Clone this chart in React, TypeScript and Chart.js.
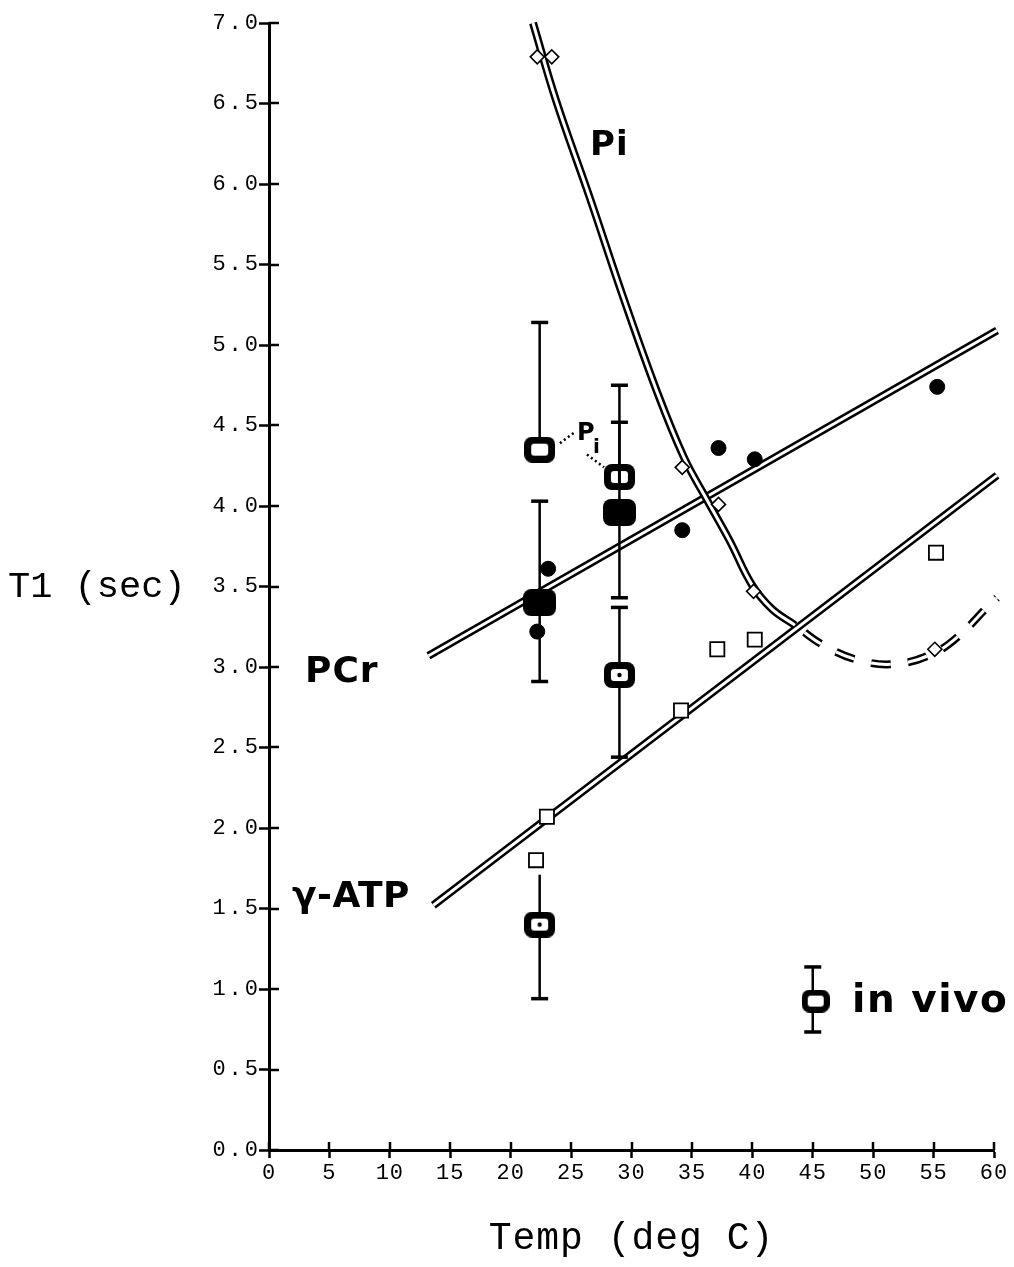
import React, { useEffect, useRef } from "react";
import { Chart, registerables } from "chart.js";

Chart.register(...registerables);

// ---------- data ----------
const tempTicks = [0, 5, 10, 15, 20, 25, 30, 35, 40, 45, 50, 55, 60];
const t1Ticks = [0, 0.5, 1, 1.5, 2, 2.5, 3, 3.5, 4, 4.5, 5, 5.5, 6, 6.5, 7];

// extract (in vitro) measurements
const piTemp = [22.2, 23.4, 34.2, 37.2, 40.1, 55.1];
const piT1 = [6.79, 6.79, 4.24, 4.01, 3.47, 3.11];
const pcrTemp = [22.2, 23.1, 34.2, 37.2, 40.2, 55.3];
const pcrT1 = [3.22, 3.61, 3.85, 4.36, 4.29, 4.74];
const atpTemp = [22.1, 23.0, 34.1, 37.1, 40.2, 55.2];
const atpT1 = [1.8, 2.07, 2.73, 3.11, 3.17, 3.71];

// fitted curves
const pcrFitTemp = [13.2, 60.25];
const pcrFitT1 = [3.07, 5.09];
const atpFitTemp = [13.6, 60.25];
const atpFitT1 = [1.52, 4.19];
const piFitTemp = [21.85, 23.75, 26.57, 29.3, 32.11, 34.35, 36.08, 38.15, 39.97, 41.63, 43.53, 45.77, 48.91, 52.06, 55.12, 57.19, 59.42, 60.25];
const piFitT1 = [7.0, 6.52, 5.91, 5.3, 4.71, 4.3, 4.06, 3.78, 3.51, 3.36, 3.26, 3.14, 3.04, 3.02, 3.09, 3.2, 3.37, 3.43];
const piFitDashedFrom = 43.5;

// in vivo measurements with error bars
const vivoPiTemp = [22.4, 29.0];
const vivoPiT1 = [4.35, 4.18];
const vivoPiHigh = [5.14, 4.75];
const vivoPiLow = [4.35, 4.18];
const vivoPcrTemp = [22.4, 29.0];
const vivoPcrT1 = [3.4, 3.96];
const vivoPcrHigh = [4.03, 4.52];
const vivoPcrLow = [2.91, 3.43];
const vivoAtpTemp = [22.4, 29.0];
const vivoAtpT1 = [1.4, 2.95];
const vivoAtpHigh = [1.71, 3.37];
const vivoAtpLow = [0.94, 2.44];
const vivoAtpHighCapped = [false, true];

const legendTemp = 45.0;
const legendT1 = 0.925;
const legendHigh = 1.137;
const legendLow = 0.733;

const xy = (xs: number[], ys: number[]) => xs.map((x, i) => ({ x, y: ys[i] }));

function roundRect(g: CanvasRenderingContext2D, x: number, y: number, w: number, h: number, r: number) {
  g.beginPath();
  g.moveTo(x + r, y);
  g.arcTo(x + w, y, x + w, y + h, r);
  g.arcTo(x + w, y + h, x, y + h, r);
  g.arcTo(x, y + h, x, y, r);
  g.arcTo(x, y, x + w, y, r);
  g.closePath();
}

function makeMarker(w: number, h: number, border: number, filled: boolean, inner: string) {
  const c = document.createElement("canvas");
  c.width = w;
  c.height = h;
  const g = c.getContext("2d")!;
  g.fillStyle = "#000";
  roundRect(g, 0, 0, w, h, 8);
  g.fill();
  if (!filled) {
    g.fillStyle = "#fff";
    roundRect(g, border, border, w - 2 * border, h - 2 * border, 3);
    g.fill();
    g.fillStyle = "#000";
    if (inner === "dot") {
      g.beginPath();
      g.arc(w / 2, h / 2, 2.2, 0, Math.PI * 2);
      g.fill();
    } else if (inner === "bar") {
      g.fillRect(w / 2 - 1.5, 0, 3, h);
    }
  }
  return c;
}

export default function App() {
  const ref = useRef<HTMLCanvasElement>(null);

  useEffect(() => {
    const canvas = ref.current!;
    const openPlain = makeMarker(31, 26, 7, false, "none");
    const openDot = makeMarker(31, 26, 7, false, "dot");
    const openBar = makeMarker(31, 26, 7, false, "bar");
    const filledBox = makeMarker(33, 27, 0, true, "none");
    const legendBox = makeMarker(28, 23, 6, false, "none");

    const dashStart = piFitTemp.findIndex((t) => t >= piFitDashedFrom);
    const dashSeg = {
      borderDash: (c: any) => (c.p0DataIndex >= dashStart ? [20, 17] : undefined),
      borderDashOffset: (c: any) => (c.p0DataIndex >= dashStart ? 25 : 0),
    };

    const lineBase: any = {
      type: "line",
      showLine: true,
      pointRadius: 0,
      pointHoverRadius: 0,
      fill: false,
      clip: false,
      borderCapStyle: "butt",
    };
    const OUTER = 8;
    const INNER = 3;

    const datasets: any[] = [
      { ...lineBase, data: xy(atpFitTemp, atpFitT1), borderColor: "#000", borderWidth: OUTER, order: 20 },
      { ...lineBase, data: xy(atpFitTemp, atpFitT1), borderColor: "#fff", borderWidth: INNER, order: 19 },
      { ...lineBase, data: xy(pcrFitTemp, pcrFitT1), borderColor: "#000", borderWidth: OUTER, order: 18 },
      { ...lineBase, data: xy(pcrFitTemp, pcrFitT1), borderColor: "#fff", borderWidth: INNER, order: 17 },
      {
        ...lineBase, data: xy(piFitTemp, piFitT1), borderColor: "#000", borderWidth: OUTER, order: 16,
        tension: 0.4, segment: dashSeg,
      },
      {
        ...lineBase, data: xy(piFitTemp, piFitT1), borderColor: "#fff", borderWidth: INNER, order: 15,
        tension: 0.4, segment: dashSeg,
      },
      {
        type: "scatter", data: xy(piTemp, piT1), pointStyle: "rectRot", pointRadius: 7,
        borderColor: "#000", backgroundColor: "#fff", borderWidth: 1.6, order: 5,
      },
      {
        type: "scatter", data: xy(pcrTemp, pcrT1), pointStyle: "circle", pointRadius: 7.5,
        borderColor: "#000", backgroundColor: "#000", borderWidth: 1, order: 5,
      },
      {
        type: "scatter", data: xy(atpTemp, atpT1), pointStyle: "rect", pointRadius: 10,
        borderColor: "#000", backgroundColor: "#fff", borderWidth: 1.8, order: 5,
      },
      { type: "scatter", data: xy(vivoPiTemp, vivoPiT1), pointStyle: [openPlain, openBar], pointRadius: 12, order: 1 },
      { type: "scatter", data: xy(vivoPcrTemp, vivoPcrT1), pointStyle: filledBox, pointRadius: 12, order: 1 },
      { type: "scatter", data: xy(vivoAtpTemp, vivoAtpT1), pointStyle: openDot, pointRadius: 12, order: 1 },
    ];

    const drawBar = (ctx: CanvasRenderingContext2D, x: number, yTop: number, yBot: number, capTop: boolean, capBot: boolean) => {
      ctx.lineWidth = 2.5;
      ctx.beginPath();
      ctx.moveTo(x, yTop);
      ctx.lineTo(x, yBot);
      ctx.stroke();
      ctx.lineWidth = 3.5;
      if (capTop) {
        ctx.beginPath();
        ctx.moveTo(x - 8.5, yTop);
        ctx.lineTo(x + 8.5, yTop);
        ctx.stroke();
      }
      if (capBot) {
        ctx.beginPath();
        ctx.moveTo(x - 8.5, yBot);
        ctx.lineTo(x + 8.5, yBot);
        ctx.stroke();
      }
    };

    const plugin: any = {
      id: "figureExtras",
      beforeDraw(chart: any) {
        const sx = chart.scales.x;
        const sy = chart.scales.y;
        if (!sy.__ls) {
          const o = sy.drawLabels;
          sy.drawLabels = function (a: any) {
            const c = this.ctx; c.save(); c.letterSpacing = "3px"; o.call(this, a); c.restore();
          };
          sy.__ls = true;
        }
        if (!sx.__ls) {
          const o = sx.drawLabels;
          sx.drawLabels = function (a: any) {
            const c = this.ctx; c.save(); c.letterSpacing = "1px"; o.call(this, a); c.restore();
          };
          const ot = sx.drawTitle;
          sx.drawTitle = function () {
            const c = this.ctx; c.save(); c.letterSpacing = "1px"; ot.call(this); c.restore();
          };
          sx.__ls = true;
        }
      },
      afterDatasetDraw(chart: any, args: any) {
        if (args.index !== 5) return;
        const ctx: CanvasRenderingContext2D = chart.ctx;
        const xs = chart.scales.x;
        const ys = chart.scales.y;
        ctx.save();
        ctx.strokeStyle = "#000";
        ctx.lineCap = "butt";
        const sets = [
          { t: vivoPiTemp, v: vivoPiT1, hi: vivoPiHigh, lo: vivoPiLow, hc: [true, true] },
          { t: vivoPcrTemp, v: vivoPcrT1, hi: vivoPcrHigh, lo: vivoPcrLow, hc: [true, true] },
          { t: vivoAtpTemp, v: vivoAtpT1, hi: vivoAtpHigh, lo: vivoAtpLow, hc: vivoAtpHighCapped },
        ];
        for (const s of sets) {
          s.t.forEach((t, i) => {
            const x = xs.getPixelForValue(t);
            drawBar(ctx, x, ys.getPixelForValue(s.hi[i]), ys.getPixelForValue(s.lo[i]),
              s.hc[i] && s.hi[i] > s.v[i], s.lo[i] < s.v[i]);
          });
        }
        ctx.restore();
      },
      afterDraw(chart: any) {
        const ctx: any = chart.ctx;
        const xs = chart.scales.x;
        const ys = chart.scales.y;
        const area = chart.chartArea;
        const px = (v: number) => xs.getPixelForValue(v);
        const py = (v: number) => ys.getPixelForValue(v);
        ctx.save();
        ctx.strokeStyle = "#000";
        ctx.fillStyle = "#000";
        // inner halves of the tick marks
        ctx.lineWidth = 2.5;
        for (const t of t1Ticks) {
          const y = Math.round(py(t));
          ctx.beginPath(); ctx.moveTo(area.left, y); ctx.lineTo(area.left + 10, y); ctx.stroke();
        }
        for (const t of tempTicks) {
          const x = Math.round(px(t));
          ctx.beginPath(); ctx.moveTo(x, area.bottom); ctx.lineTo(x, area.bottom - 8); ctx.stroke();
        }

        // legend
        const lx = px(legendTemp);
        drawBar(ctx, lx, py(legendHigh), py(legendLow), true, true);
        ctx.drawImage(legendBox, lx + 3 - legendBox.width / 2, py(legendT1) - legendBox.height / 2);

        // y axis title (horizontal)
        ctx.textAlign = "left";
        ctx.textBaseline = "alphabetic";
        ctx.letterSpacing = "0px";
        ctx.font = '37px "Liberation Mono"';
        ctx.fillText("T1 (sec)", 8, py(3.435));

        // curve labels
        ctx.letterSpacing = "1px";
        ctx.font = 'bold 34px "DejaVu Sans"';
        ctx.fillText("Pi", px(26.57), py(6.18));
        ctx.font = 'bold 36px "DejaVu Sans"';
        ctx.fillText("PCr", px(2.98), py(2.907));
        ctx.letterSpacing = "0.5px";
        ctx.fillText("γ-ATP", px(1.9), py(1.509));
        ctx.font = 'bold 39px "DejaVu Sans"';
        ctx.letterSpacing = "1.5px";
        ctx.fillText("in vivo", px(48.25), py(0.857));

        // small Pi label for in vivo points
        ctx.letterSpacing = "0px";
        ctx.font = 'bold 24px "DejaVu Sans"';
        ctx.fillText("P", px(25.49), py(4.41));
        ctx.font = 'bold 20px "DejaVu Sans"';
        ctx.fillText("i", px(26.81), py(4.33));
        ctx.setLineDash([2, 3]);
        ctx.lineWidth = 2.5;
        ctx.beginPath();
        ctx.moveTo(px(24.08), py(4.39)); ctx.lineTo(px(25.32), py(4.46));
        ctx.moveTo(px(26.32), py(4.32)); ctx.lineTo(px(27.72), py(4.24));
        ctx.stroke();
        ctx.restore();
      },
    };

    const chart = new Chart(canvas, {
      type: "scatter",
      data: { datasets },
      plugins: [plugin],
      options: {
        responsive: false,
        animation: false,
        devicePixelRatio: 1,
        events: [],
        layout: { padding: { left: 0, right: 20, top: 23, bottom: 0 } },
        plugins: { legend: { display: false }, tooltip: { enabled: false } },
        scales: {
          x: {
            type: "linear",
            min: 0,
            max: 60,
            afterBuildTicks: (s: any) => { s.ticks = tempTicks.map((v) => ({ value: v })); },
            afterFit: (s: any) => { s.height = 117; },
            ticks: {
              font: { family: "Liberation Mono", size: 22 },
              color: "#000",
              padding: 2,
              autoSkip: false,
              maxRotation: 0,
              callback: (v: any) => String(v),
            },
            grid: { drawOnChartArea: false, drawTicks: true, tickLength: 8, tickColor: "#000", tickWidth: 2.5 },
            border: { display: true, color: "#000", width: 3 },
            title: {
              display: true,
              text: "Temp (deg C)",
              color: "#000",
              font: { family: "Liberation Mono", size: 38, lineHeight: 1 },
              padding: { top: 0, bottom: 9 },
            },
          },
          y: {
            type: "linear",
            min: 0,
            max: 7,
            afterBuildTicks: (s: any) => { s.ticks = t1Ticks.map((v) => ({ value: v })); },
            afterFit: (s: any) => { s.width = 269; },
            ticks: {
              font: { family: "Liberation Mono", size: 22 },
              color: "#000",
              padding: -2,
              autoSkip: false,
              callback: (v: any) => Number(v).toFixed(1),
            },
            grid: { drawOnChartArea: false, drawTicks: true, tickLength: 10, tickColor: "#000", tickWidth: 2.5 },
            border: { display: true, color: "#000", width: 3 },
          },
        },
      } as any,
    });

    return () => chart.destroy();
  }, []);

  return (
    <div style={{ position: "absolute", left: 0, top: 0, width: 1014, height: 1267, background: "#fff" }}>
      <canvas ref={ref} width={1014} height={1267} style={{ display: "block", width: 1014, height: 1267 }} />
    </div>
  );
}
